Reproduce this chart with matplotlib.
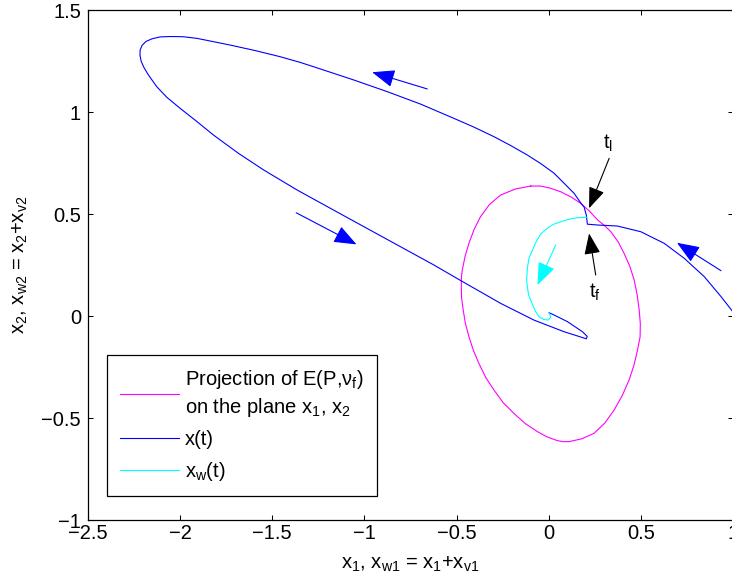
import matplotlib
matplotlib.use("Agg")
import matplotlib.pyplot as plt

plt.rcParams['font.family'] = ['Liberation Sans', 'DejaVu Sans']
plt.rcParams['mathtext.fontset'] = 'custom'
plt.rcParams['mathtext.rm'] = 'Liberation Sans'
plt.rcParams['mathtext.default'] = 'regular'
plt.rcParams['font.size'] = 14.5

# projection of the ellipsoid E(P, nu_f) on the x1, x2 plane
ell_x1 = [-0.098, -0.179, -0.261, -0.321, -0.370, -0.405, -0.433, -0.454, -0.469, -0.474,
          -0.474, -0.473, -0.464, -0.452, -0.433, -0.409, -0.379, -0.342, -0.297, -0.247,
          -0.189, -0.128, -0.061, -0.008, 0.047, 0.079, 0.110, 0.179, 0.246, 0.304,
          0.355, 0.399, 0.436, 0.462, 0.482, 0.496, 0.497, 0.491, 0.480, 0.464,
          0.440, 0.409, 0.377, 0.337, 0.302, 0.265, 0.221, 0.174, 0.122, 0.065,
          0.011, -0.043, -0.098]
ell_x2 = [0.637, 0.623, 0.593, 0.547, 0.487, 0.424, 0.356, 0.292, 0.225, 0.189,
          0.152, 0.091, 0.029, -0.037, -0.101, -0.168, -0.232, -0.301, -0.363, -0.425,
          -0.477, -0.527, -0.567, -0.593, -0.611, -0.616, -0.616, -0.602, -0.575, -0.525,
          -0.461, -0.390, -0.314, -0.243, -0.167, -0.101, -0.036, 0.029, 0.103, 0.176,
          0.244, 0.307, 0.363, 0.413, 0.444, 0.471, 0.514, 0.552, 0.583, 0.609,
          0.626, 0.637, 0.637]

# state trajectory x(t)
x_x1 = [1.000, 0.935, 0.844, 0.735, 0.627, 0.500, 0.373, 0.265, 0.210, 0.204,
        0.192, 0.174, 0.138, 0.082, 0.029, -0.043, -0.116, -0.207, -0.297, -0.406,
        -0.515, -0.696, -0.877, -1.058, -1.239, -1.348, -1.457, -1.592, -1.728, -1.837,
        -1.909, -1.984, -2.054, -2.109, -2.152, -2.185, -2.207, -2.217, -2.218, -2.212,
        -2.198, -2.174, -2.127, -2.071, -2.000, -1.913, -1.819, -1.683, -1.547, -1.366,
        -1.185, -0.985, -0.623, -0.478, -0.261, -0.080, 0.083, 0.174, 0.204, 0.209,
        0.183, 0.102, 0.029, 0.002]
x_x2 = [0.020, 0.095, 0.193, 0.283, 0.356, 0.413, 0.441, 0.446, 0.450, 0.495,
        0.534, 0.554, 0.601, 0.652, 0.700, 0.747, 0.789, 0.836, 0.879, 0.926,
        0.969, 1.039, 1.100, 1.157, 1.211, 1.243, 1.271, 1.301, 1.328, 1.348,
        1.361, 1.369, 1.370, 1.368, 1.359, 1.346, 1.326, 1.304, 1.279, 1.250,
        1.221, 1.184, 1.124, 1.071, 1.018, 0.956, 0.887, 0.797, 0.716, 0.618,
        0.528, 0.429, 0.250, 0.174, 0.062, -0.020, -0.077, -0.103, -0.112, -0.100,
        -0.077, -0.028, 0.005, 0.016]

# x_w(t) = x(t) + x_v(t)
xw_x1 = [0.207, 0.156, 0.109, 0.065, 0.030, 0.000, -0.043, -0.063, -0.080, -0.107,
         -0.116, -0.120, -0.115, -0.109, -0.087, -0.071, -0.053, -0.027, -0.003, 0.011,
         0.002]
xw_x2 = [0.484, 0.482, 0.474, 0.462, 0.451, 0.436, 0.402, 0.373, 0.340, 0.284,
         0.233, 0.176, 0.137, 0.103, 0.054, 0.022, -0.003, -0.017, -0.020, -0.005,
         0.015]

# direction arrows: (tail, head)
blue_arrows = [((-0.659, 1.113), (-0.958, 1.195)),
               ((-1.370, 0.506), (-1.043, 0.351)),
               ((0.935, 0.222), (0.696, 0.359))]
cyan_arrow = ((0.038, 0.348), (-0.061, 0.152))
tl_arrow = ((0.328, 0.773), (0.219, 0.528))
tf_arrow = ((0.255, 0.201), (0.219, 0.405))

fig = plt.figure(figsize=(7.32, 5.82), dpi=100)
ax = fig.add_axes([88 / 732, 1 - 520 / 582, 645 / 732, 510 / 582])

ax.plot(ell_x1, ell_x2, color='#ff00ff', lw=0.8,
        label='Projection of E(P,ν$_f$)\non the plane x$_1$, x$_2$')
ax.plot(x_x1, x_x2, color='#0000ff', lw=0.8, label='x(t)')
ax.plot(xw_x1, xw_x2, color='#00ffff', lw=0.8, label='x$_w$(t)')


def arrow(tail, head, color, hl, hw):
    ax.annotate('', xy=head, xytext=tail,
                arrowprops=dict(arrowstyle='-|>,head_length=%g,head_width=%g' % (hl, hw),
                                color=color, lw=0.8, mutation_scale=1,
                                shrinkA=0, shrinkB=0))


for t, h in blue_arrows:
    arrow(t, h, '#0000ff', 14, 5.5)
arrow(cyan_arrow[0], cyan_arrow[1], '#00ffff', 14, 5.5)
arrow(tl_arrow[0], tl_arrow[1], 'black', 13, 5)
arrow(tf_arrow[0], tf_arrow[1], 'black', 13, 5)

ax.text(0.321, 0.848, 't$_l$', ha='center', va='center')
ax.text(0.250, 0.118, 't$_f$', ha='center', va='center')

ax.set_xlim(-2.5, 1)
ax.set_ylim(-1, 1.5)
ax.set_xticks([-2.5, -2, -1.5, -1, -0.5, 0, 0.5, 1])
ax.set_xticklabels(['−2.5', '−2', '−1.5', '−1', '−0.5', '0', '0.5', '1'])
ax.set_yticks([-1, -0.5, 0, 0.5, 1, 1.5])
ax.set_yticklabels(['−1', '−0.5', '0', '0.5', '1', '1.5'])
ax.tick_params(direction='in', top=True, right=True, length=3.6, width=0.75)
ax.tick_params(axis='x', pad=3)
ax.tick_params(axis='y', pad=5)
for s in ax.spines.values():
    s.set_linewidth(0.9)

ax.set_xlabel('x$_1$, x$_{w1}$ = x$_1$+x$_{v1}$', labelpad=8)
ax.set_ylabel('x$_2$, x$_{w2}$ = x$_2$+x$_{v2}$', labelpad=8)

leg = ax.legend(loc='lower left', bbox_to_anchor=(0.0295, 0.047), borderaxespad=0,
                fancybox=False, framealpha=1, edgecolor='black', handlelength=2.93,
                handletextpad=0.3, borderpad=0.65, labelspacing=0.55)
leg.get_frame().set_linewidth(0.9)
leg.get_texts()[0].set_linespacing(1.3)

fig.savefig('out.png', dpi=100)
